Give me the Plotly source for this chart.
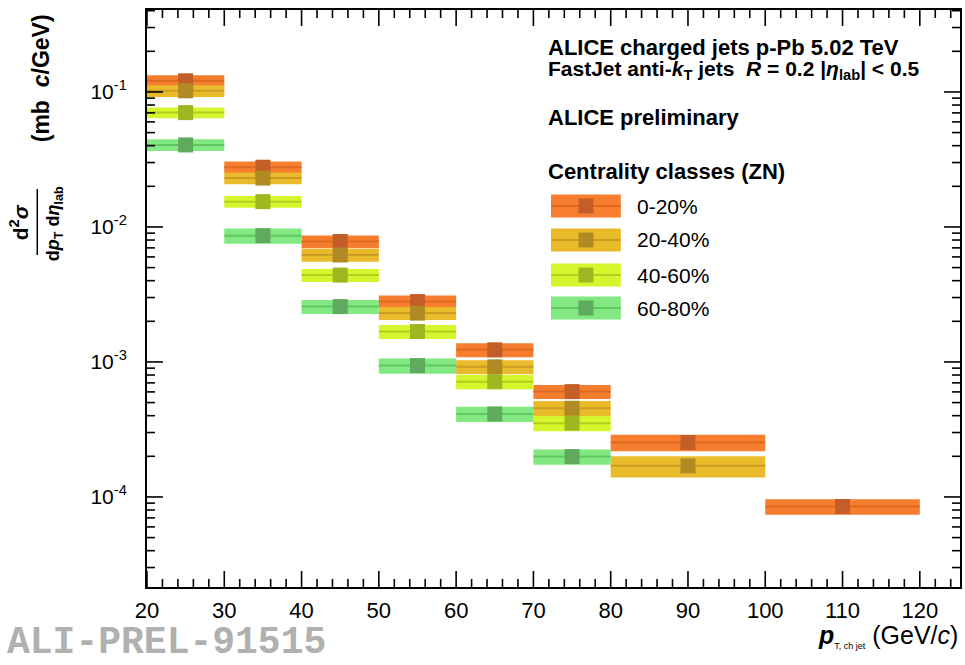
import math
import plotly.graph_objects as go

# ---------------- data ----------------
bin_lo = [20, 30, 40, 50, 60, 70, 80, 100]
bin_hi = [30, 40, 50, 60, 70, 80, 100, 120]

classes = ["0-20%", "20-40%", "40-60%", "60-80%"]

val_0_20 = [0.121, 0.0277, 0.0078, 0.0028, 0.00123, 0.000603, 0.000253, 8.5e-5]
val_20_40 = [0.102, 0.0230, 0.0062, 0.0023, 0.00092, 0.000454, 0.000170]
val_40_60 = [0.0703, 0.0154, 0.0044, 0.00168, 0.000714, 0.000352]
val_60_80 = [0.0405, 0.00862, 0.00257, 0.00094, 0.000412, 0.000199]

sys_0_20 = [0.10, 0.10, 0.11, 0.11, 0.12, 0.12, 0.14, 0.13]
sys_20_40 = [0.10, 0.10, 0.11, 0.11, 0.12, 0.13, 0.18]
sys_40_60 = [0.09, 0.10, 0.11, 0.12, 0.12, 0.13]
sys_60_80 = [0.10, 0.13, 0.12, 0.13, 0.13, 0.13]

y_tickvals = [1e-4, 1e-3, 1e-2, 1e-1]
y_ticktext = ["10<sup>-4</sup>", "10<sup>-3</sup>", "10<sup>-2</sup>", "10<sup>-1</sup>"]
x_tickvals = [20, 30, 40, 50, 60, 70, 80, 90, 100, 110, 120]

# styles
box_colors = ["#F67E2E", "#E9BA2A", "#D6F52C", "#82E882"]
line_colors = ["#DC6A22", "#CB9C22", "#B2CE1E", "#60C660"]
mark_colors = ["#C45E28", "#B08A22", "#9EB620", "#5FAA5F"]

series_vals = [val_0_20, val_20_40, val_40_60, val_60_80]
series_sys = [sys_0_20, sys_20_40, sys_40_60, sys_60_80]

FONT = "Liberation Sans, Arial, Helvetica, sans-serif"

# ---------------- geometry ----------------
L, R, T, B = 147, 3, 10, 78
W, H = 965, 665
PW, PH = W - L - R, H - T - B

XR = [20, 125.2]
YR = [-4.667, -0.393]
minor_y = [m * 10 ** e for e in range(-5, 0) for m in range(2, 10)
           if YR[0] < e + math.log10(m) < YR[1]]
minor_x = [v for v in range(22, 125, 2) if v % 10 != 0]


def px(xp):
    return (xp - L) / PW


def py(yp):
    return (H - B - yp) / PH


fig = go.Figure()

for k in range(4):
    vals = series_vals[k]
    sy = series_sys[k]
    bx, by = [], []
    for i in range(len(vals)):
        lo, hi = bin_lo[i], bin_hi[i]
        ylo, yhi = vals[i] * (1 - sy[i]), vals[i] * (1 + sy[i])
        bx += [lo, hi, hi, lo, lo, None]
        by += [ylo, ylo, yhi, yhi, ylo, None]
    fig.add_trace(go.Scatter(x=bx, y=by, mode="lines", fill="toself",
                             fillcolor=box_colors[k], line=dict(width=0),
                             hoverinfo="skip", showlegend=False))
for k in range(4):
    vals = series_vals[k]
    lx, ly, cx = [], [], []
    for i in range(len(vals)):
        lo, hi = bin_lo[i], bin_hi[i]
        lx += [lo, hi, None]
        ly += [vals[i], vals[i], None]
        cx.append(0.5 * (lo + hi))
    fig.add_trace(go.Scatter(x=lx, y=ly, mode="lines",
                             line=dict(color=line_colors[k], width=2),
                             hoverinfo="skip", showlegend=False))
    fig.add_trace(go.Scatter(x=cx, y=vals, mode="markers",
                             marker=dict(symbol="square", size=15, color=mark_colors[k],
                                         line=dict(width=0)),
                             name=classes[k], showlegend=False))

# ---------------- inside ticks on all four sides, drawn on the axes ----------------
ux = (XR[1] - XR[0]) / PW      # x data units per pixel
uy = (YR[1] - YR[0]) / PH      # decades per pixel
ymin, ymax = 10 ** YR[0], 10 ** YR[1]
tx, ty = [], []
for v, ln in [(t, 16) for t in x_tickvals] + [(t, 8) for t in minor_x]:
    tx += [v, v, None, v, v, None]
    ty += [ymin, ymin * 10 ** (ln * uy), None, ymax, ymax / 10 ** (ln * uy), None]
for v, ln in [(t, 16) for t in y_tickvals] + [(t, 8) for t in minor_y]:
    tx += [XR[0], XR[0] + ln * ux, None, XR[1], XR[1] - ln * ux, None]
    ty += [v, v, None, v, v, None]
fig.add_trace(go.Scatter(x=tx, y=ty, mode="lines", line=dict(color="black", width=1.6),
                         hoverinfo="skip", showlegend=False, cliponaxis=False))

fig.update_layout(
    width=W, height=H,
    margin=dict(l=L, r=R, t=T, b=B, pad=0),
    paper_bgcolor="white", plot_bgcolor="white",
    font=dict(family=FONT, color="black"),
    showlegend=False,
    xaxis=dict(range=XR, tickmode="array", tickvals=x_tickvals,
               ticks="", showline=True, linecolor="black", linewidth=2, mirror=True,
               showgrid=False, zeroline=False,
               tickfont=dict(family=FONT, size=22, color="black"),
               ticklabelstandoff=3),
    yaxis=dict(type="log", range=YR, tickmode="array",
               tickvals=y_tickvals, ticktext=y_ticktext,
               ticks="", showline=True, linecolor="black", linewidth=2, mirror=True,
               showgrid=False, zeroline=False,
               tickfont=dict(family=FONT, size=21, color="black"),
               ticklabelstandoff=14),
)

ann = []
shapes = []

HF = 22
# header texts
ann.append(dict(x=px(547), y=py(47), xref="paper", yref="paper", xanchor="left", yanchor="middle",
                text="<b>ALICE charged jets p-Pb 5.02 TeV</b>", showarrow=False,
                font=dict(family=FONT, size=HF)))
ann.append(dict(x=px(547), y=py(70), xref="paper", yref="paper", xanchor="left", yanchor="middle",
                text="<b>FastJet anti-<i>k</i><sub>T</sub> jets  <i>R</i> = 0.2 |<i>η</i><sub>lab</sub>| < 0.5</b>",
                showarrow=False, font=dict(family=FONT, size=HF - 1)))
ann.append(dict(x=px(547), y=py(118), xref="paper", yref="paper", xanchor="left", yanchor="middle",
                text="<b>ALICE preliminary</b>", showarrow=False, font=dict(family=FONT, size=HF)))
ann.append(dict(x=px(547), y=py(172), xref="paper", yref="paper", xanchor="left", yanchor="middle",
                text="<b>Centrality classes (ZN)</b>", showarrow=False, font=dict(family=FONT, size=HF)))

# legend (manual)
leg_y = [206, 240, 275, 308]
for k in range(4):
    yc = leg_y[k]
    shapes.append(dict(type="rect", xref="paper", yref="paper",
                       x0=px(552), x1=px(622), y0=py(yc + 11.5), y1=py(yc - 11.5),
                       fillcolor=box_colors[k], line=dict(width=0), layer="above"))
    shapes.append(dict(type="line", xref="paper", yref="paper",
                       x0=px(552), x1=px(622), y0=py(yc), y1=py(yc),
                       line=dict(color=line_colors[k], width=2), layer="above"))
    shapes.append(dict(type="rect", xref="paper", yref="paper",
                       x0=px(579.5), x1=px(594.5), y0=py(yc + 7.5), y1=py(yc - 7.5),
                       fillcolor=mark_colors[k], line=dict(width=0), layer="above"))
    ann.append(dict(x=px(636), y=py(yc), xref="paper", yref="paper", xanchor="left", yanchor="middle",
                    text=classes[k], showarrow=False, font=dict(family=FONT, size=21)))

# y-axis title (fraction)
FR = 222
ann.append(dict(x=px(19), y=py(FR), xref="paper", yref="paper", xanchor="center", yanchor="middle",
                text="<b>d<sup>2</sup><i>σ</i></b>", textangle=-90, showarrow=False,
                font=dict(family=FONT, size=21)))
ann.append(dict(x=px(54), y=py(FR + 2), xref="paper", yref="paper", xanchor="center", yanchor="middle",
                text="<b>d<i>p</i><sub>T</sub> d<i>η</i><sub>lab</sub></b>", textangle=-90, showarrow=False,
                font=dict(family=FONT, size=18)))
shapes.append(dict(type="line", xref="paper", yref="paper",
                   x0=px(37), x1=px(37), y0=py(FR + 33), y1=py(FR - 33),
                   line=dict(color="black", width=1.5)))
ann.append(dict(x=px(41), y=py(78), xref="paper", yref="paper", xanchor="center", yanchor="middle",
                text="<b>(mb&nbsp;&nbsp;<i>c</i>/GeV)</b>", textangle=-90, showarrow=False,
                font=dict(family=FONT, size=23)))

# x-axis title
ann.append(dict(x=px(962), y=py(636), xref="paper", yref="paper", xanchor="right", yanchor="middle",
                text="<b><i>p</i></b><sub><span style='font-size:9px'>T, ch jet</span></sub> (GeV/<i>c</i>)",
                showarrow=False, font=dict(family=FONT, size=25)))

# watermark
ann.append(dict(x=px(5), y=py(642), xref="paper", yref="paper", xanchor="left", yanchor="middle",
                text="<b>ALI-PREL-91515</b>", showarrow=False,
                font=dict(family="Liberation Mono, Courier New, monospace", size=38, color="#B0B0B0")))

fig.update_layout(annotations=ann, shapes=shapes)

fig.write_html("out.html")
